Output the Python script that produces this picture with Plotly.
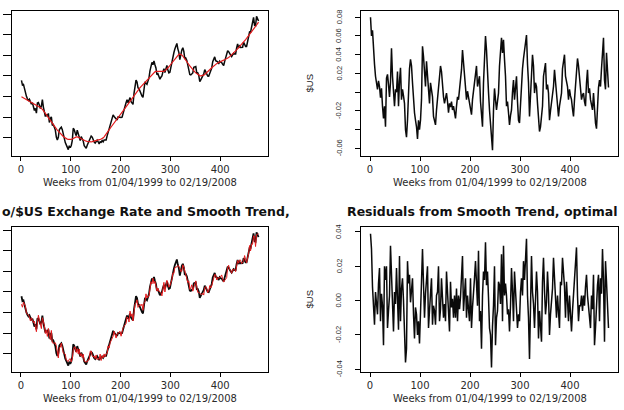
import plotly.graph_objects as go

# ---------------- data (units of 0.001 $US) ----------------
# weekly index 1..477, read every second week
week_first = 1
week_step = 2

# smooth trend (red line, top-left panel)
trend_smooth_milli = [
    1099, 1096, 1093, 1090, 1087, 1084, 1081, 1078, 1075, 1072,
    1069, 1066, 1063, 1060, 1058, 1056, 1054, 1052, 1050, 1047,
    1043, 1038, 1032, 1025, 1018, 1011, 1003, 996, 989, 982,
    975, 968, 961, 955, 949, 943, 937, 932, 926, 921,
    916, 911, 906, 902, 898, 895, 893, 892, 891, 891,
    892, 894, 897, 900, 902, 904, 904, 903, 901, 898,
    895, 892, 889, 887, 885, 883, 882, 881, 880, 880,
    880, 881, 882, 884, 886, 888, 889, 890, 891, 892,
    894, 896, 899, 904, 910, 917, 924, 931, 938, 945,
    952, 959, 966, 973, 980, 987, 994, 1000, 1006, 1012,
    1018, 1024, 1030, 1036, 1043, 1050, 1057, 1064, 1071, 1078,
    1085, 1092, 1099, 1106, 1113, 1120, 1126, 1132, 1138, 1143,
    1148, 1153, 1158, 1163, 1168, 1173, 1179, 1185, 1191, 1197,
    1203, 1208, 1213, 1217, 1220, 1222, 1222, 1221, 1220, 1219,
    1219, 1219, 1220, 1222, 1225, 1229, 1234, 1239, 1245, 1251,
    1257, 1263, 1270, 1277, 1284, 1291, 1297, 1302, 1305, 1306,
    1305, 1302, 1297, 1291, 1284, 1277, 1270, 1263, 1256, 1249,
    1242, 1236, 1230, 1225, 1220, 1215, 1211, 1207, 1204, 1202,
    1201, 1201, 1202, 1204, 1207, 1211, 1215, 1220, 1225, 1230,
    1235, 1240, 1245, 1249, 1253, 1257, 1260, 1263, 1266, 1269,
    1271, 1273, 1275, 1277, 1279, 1281, 1284, 1287, 1290, 1294,
    1298, 1302, 1307, 1312, 1317, 1322, 1327, 1332, 1337, 1342,
    1347, 1353, 1359, 1365, 1371, 1377, 1383, 1389, 1395, 1401,
    1407, 1413, 1420, 1427, 1434, 1441, 1448, 1455, 1462,
]

# residuals from the smooth trend (top-right panel)
resid_smooth_milli = [
    80, 60, 66, 44, 30, 17, 8, 3, 12, 6,
    -6, 4, -15, -28, -15, -37, 15, 19, 8, -5,
    11, 47, 17, -6, -15, 3, 0, 22, -15, 12,
    26, -8, 3, -4, -12, -40, -48, -30, 13, 25,
    35, 28, 10, -10, -22, -30, -37, -50, -30, -40,
    -30, -8, 49, 38, 20, 6, 33, 16, 6, -12,
    10, 2, -5, -26, -30, -35, -19, -5, 10, 20,
    28, 22, 5, -5, -12, -6, -1, -10, -22, -12,
    -16, -10, -19, -15, -22, -28, -15, -5, -8, 3,
    14, 24, 45, 30, 17, 2, -8, 1, -6, -15,
    -20, -24, -8, 0, 10, 20, 28, 6, 12, 17,
    -10, -26, -37, 10, 40, 60, 45, 10, 0, -19,
    -35, -51, -62, -19, 4, -8, -19, -10, -1, 28,
    45, 58, 42, 56, 35, 17, -15, -10, -22, -35,
    -25, -19, 0, 13, -8, 5, 17, -10, -30, -33,
    -10, 10, 25, 36, 47, 55, 61, 30, 10, -26,
    3, 25, 40, 28, -1, 10, 6, -12, -24, -42,
    -37, -25, -15, 17, 25, 31, 3, 8, -1, -30,
    -20, -12, 0, 6, 24, 10, -8, -20, -26, -15,
    -5, -1, 25, 35, 40, 17, 10, 6, -8, 3,
    -4, -8, -18, -26, -8, 5, 17, 36, 28, 12,
    3, -8, -3, -1, -10, -15, 10, 24, -1, 4,
    -8, -12, -19, -1, -20, -33, -39, -15, 5, 13,
    6, 25, 42, 58, 13, 3, 42, 20, 5,
]

# residuals from the rough (optimal) trend (bottom-right panel)
resid_rough_milli = [
    39, 30, 8, -5, -14, 5, -4, -8, 10, 19,
    -12, 4, -3, -26, 20, 12, 20, -16, -6, 3,
    32, 10, -12, -18, 5, -2, 19, -5, -17, 26,
    -12, 7, 13, 0, -16, -36, -28, 23, 10, 15,
    -1, 6, 13, -8, -22, -4, -8, -20, -12, -25,
    2, 11, 30, 5, -10, 4, 12, 20, -16, -3,
    4, 13, -14, -3, -6, -14, 3, 5, 20, -12,
    -5, 13, 3, -10, -2, -12, 17, 4, -3, -18,
    11, -4, 1, -10, 3, -10, 7, -12, 3, -5,
    2, 16, 26, -6, 8, 13, -10, 3, -5, -12,
    13, -16, -4, 3, 13, 23, 6, -3, 29, -12,
    -6, -28, 3, 17, 12, 34, 9, 17, 2, -16,
    -20, -39, -15, -3, 20, -26, -10, -6, 11, 9,
    -2, 27, -12, 32, 3, 10, 3, -8, -5, -18,
    -3, 19, 5, -12, 17, 3, -6, -16, -8, -12,
    5, 13, 3, 23, 12, 25, 36, 3, -10, -34,
    9, 26, 5, -2, -16, 7, 17, 5, -22, -6,
    -15, -24, 11, 25, 6, -8, -1, 17, 4, -20,
    -8, 2, 7, 25, 10, -6, -10, 3, -4, -16,
    11, 9, 25, 17, 8, -10, 11, 0, -12, 3,
    -8, -18, -6, 3, 15, 20, 31, 3, -12, -3,
    -3, 3, -6, 3, -3, 8, 15, 3, -4, -10,
    -16, 3, -5, 15, -26, -16, 2, 9, 15, -12,
    13, 4, 30, 12, -24, 23, 11, -6, -16,
]

x_tick_values = [0, 100, 200, 300, 400]
rate_tick_values = [0.9, 1.0, 1.1, 1.2, 1.3, 1.4, 1.5]
resid_smooth_tick_values = [-0.06, -0.04, -0.02, 0.0, 0.02, 0.04, 0.06, 0.08]
resid_smooth_tick_text = ["-0.06", "", "-0.02", "", "0.02", "0.04", "0.06", "0.08"]
resid_rough_tick_values = [-0.04, -0.02, 0.0, 0.02, 0.04]
resid_rough_tick_text = ["-0.04", "-0.02", "0.00", "0.02", "0.04"]

x_title = "Weeks from 01/04/1999 to 02/19/2008"
y_title = "$US"
title_left = "o/$US Exchange Rate and Smooth Trend,"
title_right = "Residuals from Smooth Trend, optimal"

# ---------------- derived series ----------------
n = min(len(trend_smooth_milli), len(resid_smooth_milli), len(resid_rough_milli))
weeks = [week_first + week_step * i for i in range(n)]
trend_smooth = [v / 1000 for v in trend_smooth_milli[:n]]
resid_smooth = [v / 1000 for v in resid_smooth_milli[:n]]
resid_rough = [v / 1000 for v in resid_rough_milli[:n]]
rate = [t + r for t, r in zip(trend_smooth, resid_smooth)]
trend_rough = [p - r for p, r in zip(rate, resid_rough)]

# ---------------- figure ----------------
W, H = 624, 410
BLACK = "#0a0a0a"
RED = "#e31a1c"

fig = go.Figure()
line_black = dict(color=BLACK, width=1.5)

fig.add_trace(go.Scatter(x=weeks, y=rate, mode="lines", line=line_black, xaxis="x", yaxis="y"))
fig.add_trace(go.Scatter(x=weeks, y=trend_smooth, mode="lines", line=dict(color=RED, width=1.2),
                         xaxis="x", yaxis="y"))
fig.add_trace(go.Scatter(x=weeks, y=resid_smooth, mode="lines", line=line_black, xaxis="x2", yaxis="y2"))
fig.add_trace(go.Scatter(x=weeks, y=rate, mode="lines", line=dict(color=BLACK, width=1.8),
                         xaxis="x3", yaxis="y3"))
fig.add_trace(go.Scatter(x=weeks, y=trend_rough, mode="lines", line=dict(color=RED, width=1.0),
                         xaxis="x3", yaxis="y3"))
fig.add_trace(go.Scatter(x=weeks, y=resid_rough, mode="lines", line=line_black, xaxis="x4", yaxis="y4"))


def px_x(a, b):
    return [a / W, b / W]


def px_y(top, bottom):
    return [1 - bottom / H, 1 - top / H]


left_dom = px_x(12, 268)
right_dom = px_x(361, 618)
top_dom = px_y(11, 156)
bot_dom = px_y(227, 372)

tick_font = dict(family="DejaVu Sans", size=10, color="#2a2a2a")
ytick_font = dict(family="Liberation Sans", size=7.5, color="#2a2a2a")
base = dict(showline=True, linecolor="black", linewidth=1, mirror=True, ticks="outside",
            tickcolor="black", tickwidth=1, showgrid=False, zeroline=False, fixedrange=True)

xcommon = dict(base, range=[-18, 496], tickmode="array", tickvals=x_tick_values,
               ticklen=4, tickfont=tick_font)

fig.update_layout(
    width=W, height=H,
    margin=dict(l=0, r=0, t=0, b=0),
    paper_bgcolor="white", plot_bgcolor="white",
    showlegend=False,
    xaxis=dict(xcommon, domain=left_dom, anchor="y"),
    yaxis=dict(base, domain=top_dom, anchor="x", range=[0.811, 1.516], tickmode="array",
               tickvals=rate_tick_values, showticklabels=False, ticklen=8),
    xaxis2=dict(xcommon, domain=right_dom, anchor="y2"),
    yaxis2=dict(base, domain=top_dom, anchor="x2", range=[-0.0682, 0.0867], tickmode="array",
                tickvals=resid_smooth_tick_values, showticklabels=False, ticklen=5),
    xaxis3=dict(xcommon, domain=left_dom, anchor="y3"),
    yaxis3=dict(base, domain=bot_dom, anchor="x3", range=[0.811, 1.516], tickmode="array",
                tickvals=rate_tick_values, showticklabels=False, ticklen=8),
    xaxis4=dict(xcommon, domain=right_dom, anchor="y4"),
    yaxis4=dict(base, domain=bot_dom, anchor="x4", range=[-0.0416, 0.0429], tickmode="array",
                tickvals=resid_rough_tick_values, showticklabels=False, ticklen=5),
)

ann_font = dict(family="DejaVu Sans", size=10, color="#2a2a2a")
ylab_font = dict(family="Liberation Sans", size=9.5, color="#222222")
title_font = dict(family="DejaVu Sans", size=12.5, color="#111111", weight="bold")
annotations = []
for cx in (140, 489.5):
    for cy in (183, 398):
        annotations.append(dict(text=x_title, x=cx / W, y=1 - cy / H, xref="paper", yref="paper",
                                xanchor="center", yanchor="middle", showarrow=False, font=ann_font))
for cy in (83.5, 299.5):
    annotations.append(dict(text=y_title, x=309 / W, y=1 - cy / H, xref="paper", yref="paper",
                            xanchor="center", yanchor="middle", textangle=-90, showarrow=False,
                            font=ylab_font))

# rotated y tick labels of the residual panels (R style, parallel to the axis)
label_x = 339 / W
for yref, vals, texts in (("y2", resid_smooth_tick_values, resid_smooth_tick_text),
                          ("y4", resid_rough_tick_values, resid_rough_tick_text)):
    for v, t in zip(vals, texts):
        if not t:
            continue
        annotations.append(dict(text=t, x=label_x, y=v, xref="paper", yref=yref,
                                xanchor="center", yanchor="middle", textangle=-90,
                                showarrow=False, font=ytick_font))

annotations.append(dict(text=title_left, x=0, y=1 - 211 / H, xref="paper", yref="paper",
                        xanchor="left", yanchor="middle", showarrow=False, font=title_font))
annotations.append(dict(text=title_right, x=345 / W, y=1 - 211 / H, xref="paper", yref="paper",
                        xanchor="left", yanchor="middle", showarrow=False, font=title_font))
fig.update_layout(annotations=annotations)

fig.write_html("out.html")
